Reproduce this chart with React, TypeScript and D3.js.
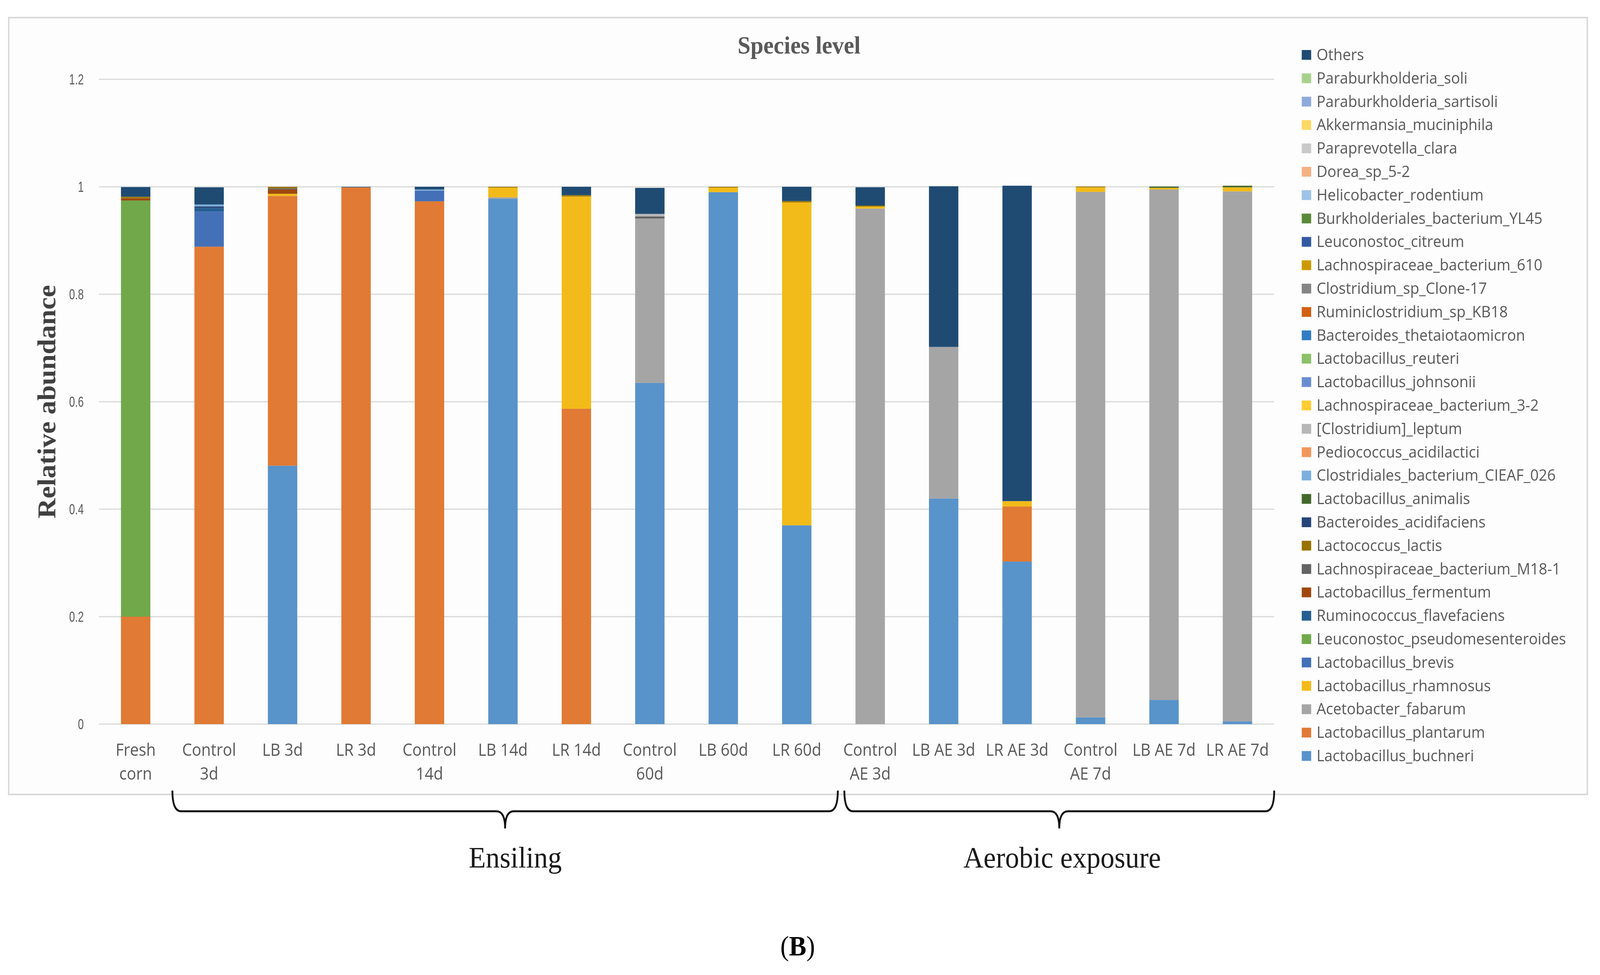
import { scaleBand, scaleLinear, stack } from 'd3'

const samples = [
  'Fresh corn', 'Control 3d', 'LB 3d', 'LR 3d', 'Control 14d', 'LB 14d', 'LR 14d', 'Control 60d',
  'LB 60d', 'LR 60d', 'Control AE 3d', 'LB AE 3d', 'LR AE 3d', 'Control AE 7d', 'LB AE 7d', 'LR AE 7d',
]
const sampleLines = [
  ['Fresh', 'corn'], ['Control', '3d'], ['LB 3d'], ['LR 3d'], ['Control', '14d'], ['LB 14d'], ['LR 14d'],
  ['Control', '60d'], ['LB 60d'], ['LR 60d'], ['Control', 'AE 3d'], ['LB AE 3d'], ['LR AE 3d'],
  ['Control', 'AE 7d'], ['LB AE 7d'], ['LR AE 7d'],
]

// species, bottom of the stack first
const species = [
  'Lactobacillus_buchneri', 'Lactobacillus_plantarum', 'Acetobacter_fabarum', 'Lactobacillus_rhamnosus',
  'Lactobacillus_brevis', 'Leuconostoc_pseudomesenteroides', 'Ruminococcus_flavefaciens', 'Lactobacillus_fermentum',
  'Lachnospiraceae_bacterium_M18-1', 'Lactococcus_lactis', 'Bacteroides_acidifaciens', 'Lactobacillus_animalis',
  'Clostridiales_bacterium_CIEAF_026', 'Pediococcus_acidilactici', '[Clostridium]_leptum',
  'Lachnospiraceae_bacterium_3-2', 'Lactobacillus_johnsonii', 'Lactobacillus_reuteri',
  'Bacteroides_thetaiotaomicron', 'Ruminiclostridium_sp_KB18', 'Clostridium_sp_Clone-17',
  'Lachnospiraceae_bacterium_610', 'Leuconostoc_citreum', 'Burkholderiales_bacterium_YL45',
  'Helicobacter_rodentium', 'Dorea_sp_5-2', 'Paraprevotella_clara', 'Akkermansia_muciniphila',
  'Paraburkholderia_sartisoli', 'Paraburkholderia_soli', 'Others',
]
const speciesColors = [
  '#5893ca', '#e07a34', '#a5a5a5', '#f2bb19', '#4470b8', '#70a84a', '#255e91', '#9e480e',
  '#636363', '#997300', '#264478', '#43682b', '#7cafdd', '#f1975a', '#b7b7b7', '#ffcd33',
  '#698ed0', '#8cc168', '#327dc2', '#d26012', '#848484', '#cc9a00', '#335aa1', '#5a8a39',
  '#9dc3e6', '#f4b183', '#c9c9c9', '#ffd966', '#8faadc', '#a9d18e', '#1f4b73',
]

const buchneri = [0, 0, 0.481, 0, 0, 0.9775, 0, 0.635, 0.99, 0.37, 0, 0.42, 0.3025, 0.0125, 0.045, 0.005]
const plantarum = [0.2, 0.8885, 0.502, 0.999, 0.973, 0, 0.587, 0, 0, 0, 0, 0, 0.1025, 0, 0, 0]
const fabarum = [0, 0, 0, 0, 0, 0.003, 0, 0.306, 0, 0, 0.9595, 0.282, 0, 0.978, 0.95, 0.9865]
const rhamnosus = [0, 0, 0.004, 0, 0, 0.018, 0.395, 0, 0.0085, 0.601, 0.0036, 0, 0.01, 0.0085, 0.003, 0.0075]
const brevis = [0, 0.0655, 0, 0, 0.02, 0, 0, 0, 0, 0, 0, 0, 0, 0, 0, 0]
const pseudomesenteroides = [0.7745, 0, 0, 0, 0, 0, 0, 0, 0, 0, 0, 0, 0, 0, 0, 0]
const flavefaciens = [0, 0.0065, 0, 0, 0, 0, 0, 0, 0, 0, 0, 0, 0, 0, 0, 0]
const fermentum = [0.004, 0, 0.008, 0, 0, 0, 0, 0, 0, 0, 0, 0, 0, 0, 0, 0]
const lachnoM18 = [0, 0, 0.002, 0, 0, 0, 0, 0.004, 0, 0, 0, 0, 0, 0, 0, 0]
const lactis = [0.003, 0, 0.003, 0, 0, 0.0015, 0.0025, 0, 0.0015, 0.0025, 0.002, 0, 0, 0.0015, 0, 0]
const acidifaciens = [0, 0.003, 0, 0, 0, 0, 0, 0, 0, 0, 0, 0, 0, 0, 0, 0]
const animalis = [0, 0, 0, 0, 0, 0, 0, 0, 0, 0, 0, 0, 0, 0, 0.0025, 0.003]
const cieaf = [0, 0.0035, 0, 0, 0.002, 0, 0, 0, 0, 0, 0, 0, 0, 0, 0, 0]
const acidilactici = [0, 0, 0, 0, 0, 0, 0, 0, 0, 0, 0, 0, 0, 0, 0, 0]
const leptum = [0, 0, 0, 0, 0, 0, 0, 0.0045, 0, 0, 0, 0, 0, 0, 0, 0]
const lachno32 = [0, 0, 0, 0, 0, 0, 0, 0, 0, 0, 0, 0, 0, 0, 0, 0]
const johnsonii = [0, 0, 0, 0, 0, 0, 0, 0, 0, 0, 0, 0, 0, 0, 0, 0]
const reuteri = [0, 0, 0, 0, 0, 0, 0, 0, 0, 0, 0, 0, 0, 0, 0, 0]
const thetaiotaomicron = [0, 0, 0, 0, 0, 0, 0, 0, 0, 0, 0, 0, 0, 0, 0, 0]
const kb18 = [0, 0, 0, 0, 0, 0, 0, 0, 0, 0, 0, 0, 0, 0, 0, 0]
const clone17 = [0, 0, 0, 0, 0, 0, 0, 0, 0, 0, 0, 0, 0, 0, 0, 0]
const lachno610 = [0, 0, 0, 0, 0, 0, 0, 0, 0, 0, 0, 0, 0, 0, 0, 0]
const citreum = [0, 0, 0, 0, 0, 0, 0, 0, 0, 0, 0, 0, 0, 0, 0, 0]
const yl45 = [0, 0, 0, 0, 0, 0, 0, 0, 0, 0, 0, 0, 0, 0, 0, 0]
const rodentium = [0, 0, 0, 0, 0, 0, 0, 0, 0, 0, 0, 0, 0, 0, 0, 0]
const dorea = [0, 0, 0, 0, 0, 0, 0, 0, 0, 0, 0, 0, 0, 0, 0, 0]
const clara = [0, 0, 0, 0, 0, 0, 0, 0, 0, 0, 0, 0, 0, 0, 0, 0]
const muciniphila = [0, 0, 0, 0, 0, 0, 0, 0, 0, 0, 0, 0, 0, 0, 0, 0]
const sartisoli = [0, 0, 0, 0, 0, 0, 0, 0, 0, 0, 0, 0, 0, 0, 0, 0]
const soli = [0, 0, 0, 0, 0, 0, 0, 0, 0, 0, 0, 0, 0, 0, 0, 0]
const others = [0.018, 0.032, 0, 0.001, 0.005, 0, 0.0155, 0.0485, 0, 0.0265, 0.034, 0.299, 0.587, 0, 0, 0]

const seriesValues = [
  buchneri, plantarum, fabarum, rhamnosus, brevis, pseudomesenteroides, flavefaciens, fermentum,
  lachnoM18, lactis, acidifaciens, animalis, cieaf, acidilactici, leptum, lachno32, johnsonii, reuteri,
  thetaiotaomicron, kb18, clone17, lachno610, citreum, yl45, rodentium, dorea, clara, muciniphila,
  sartisoli, soli, others,
]
const yTicks = [0, 0.2, 0.4, 0.6, 0.8, 1, 1.2]
const groups = [
  { label: 'Ensiling', from: 1, to: 9 },
  { label: 'Aerobic exposure', from: 10, to: 15 },
]

const W = 4415
const H = 2495
const PLOT = { left: 273, right: 3516, top: 203, bottom: 1853 }
const TEXT = '#595959'

const bracePath = (x0: number, x1: number, yTop: number, yLine: number, yTip: number) => {
  const r = 24
  const tip = (x0 + x1) / 2
  return `M${x0},${yTop} Q${x0},${yLine} ${x0 + r},${yLine} L${tip - r},${yLine} ` +
    `Q${tip},${yLine} ${tip},${yTip} Q${tip},${yLine} ${tip + r},${yLine} ` +
    `L${x1 - r},${yLine} Q${x1},${yLine} ${x1},${yTop}`
}

export default function App() {
  const x = scaleBand<string>().domain(samples).range([PLOT.left, PLOT.right])
    .paddingInner(0.6).paddingOuter(0.3)
  const y = scaleLinear().domain([0, 1.2]).range([PLOT.bottom, PLOT.top])
  const step = x.step()

  const table = samples.map((s, i) => {
    const row: Record<string, number | string> = { sample: s }
    species.forEach((sp, k) => { row[sp] = seriesValues[k][i] })
    return row
  })
  const layers = stack<Record<string, number | string>>().keys(species)(table)

  const slotStart = (i: number) => (x(samples[i]) ?? 0) - step * 0.3

  return (
    <svg viewBox={`0 0 ${W} ${H}`} preserveAspectRatio="none"
      style={{ position: 'fixed', left: 0, top: 0, width: '100vw', height: '100vh', display: 'block' }}
      xmlns="http://www.w3.org/2000/svg">
      <rect x={0} y={0} width={W} height={H} fill="#ffffff" />
      <rect x={24} y={45} width={4356} height={1988} fill="#fdfdfd" stroke="#d9d9d9" strokeWidth={4} />

      <text x={2205} y={137} textAnchor="middle" fontFamily="'Liberation Serif', serif" fontWeight="bold"
        fontSize={64} fill={TEXT}>Species level</text>

      <text transform="translate(153,1028) rotate(-90)" textAnchor="middle"
        fontFamily="'Liberation Serif', serif" fontWeight="bold" fontSize={71} fill="#404040">
        Relative abundance
      </text>

      {yTicks.map((t) => (
        <g key={t}>
          <line x1={PLOT.left} x2={PLOT.right} y1={y(t)} y2={y(t)} stroke="#d9d9d9" strokeWidth={3} />
          <text transform={`translate(231,${y(t) + 13}) scale(0.78,1)`} textAnchor="end" fontSize={37}
            fill={TEXT} fontFamily="'Liberation Sans', sans-serif">{t}</text>
        </g>
      ))}

      {layers.map((layer, k) => (
        <g key={layer.key} fill={speciesColors[k]}>
          {layer.map((d, i) => (d[1] - d[0] > 0 ? (
            <rect key={i} x={x(samples[i])} width={x.bandwidth()} y={y(d[1])}
              height={y(d[0]) - y(d[1])} />
          ) : null))}
        </g>
      ))}

      {sampleLines.map((lines, i) => (
        <text key={i} textAnchor="middle" fontFamily="'Open Sans', sans-serif" fontSize={43} fill={TEXT}>
          {lines.map((ln, j) => (
            <tspan key={j} x={(x(samples[i]) ?? 0) + x.bandwidth() / 2} y={1934 + j * 61}>{ln}</tspan>
          ))}
        </text>
      ))}

      {species.slice().reverse().map((sp, j) => {
        const k = species.length - 1 - j
        const cy = 140 + j * 59.8
        return (
          <g key={sp}>
            <rect x={3592} y={cy - 12} width={26} height={25} fill={speciesColors[k]} />
            <text x={3633} y={cy + 14} fontFamily="'Open Sans', sans-serif" fontSize={41} fill={TEXT}>{sp}</text>
          </g>
        )
      })}

      {groups.map((g, gi) => {
        const x0 = gi === 0 ? slotStart(g.from) : slotStart(g.from) + 30
        const x1 = gi === 0 ? slotStart(g.to + 1) + 12 : PLOT.right
        const mid = (x0 + x1) / 2
        return (
          <g key={g.label}>
            <path d={bracePath(x0, x1, 2023, 2076, 2120)} fill="none" stroke="#111" strokeWidth={5} />
            <text x={mid + (gi === 0 ? 28 : 8)} y={2220} textAnchor="middle"
              fontFamily="'Liberation Serif', serif" fontSize={77} fill="#1a1a1a">{g.label}</text>
          </g>
        )
      })}

      <text x={2201} y={2445} textAnchor="middle" fontFamily="'Liberation Serif', serif" fontSize={72} fill="#000">
        (<tspan fontWeight="bold">B</tspan>)
      </text>
    </svg>
  )
}
